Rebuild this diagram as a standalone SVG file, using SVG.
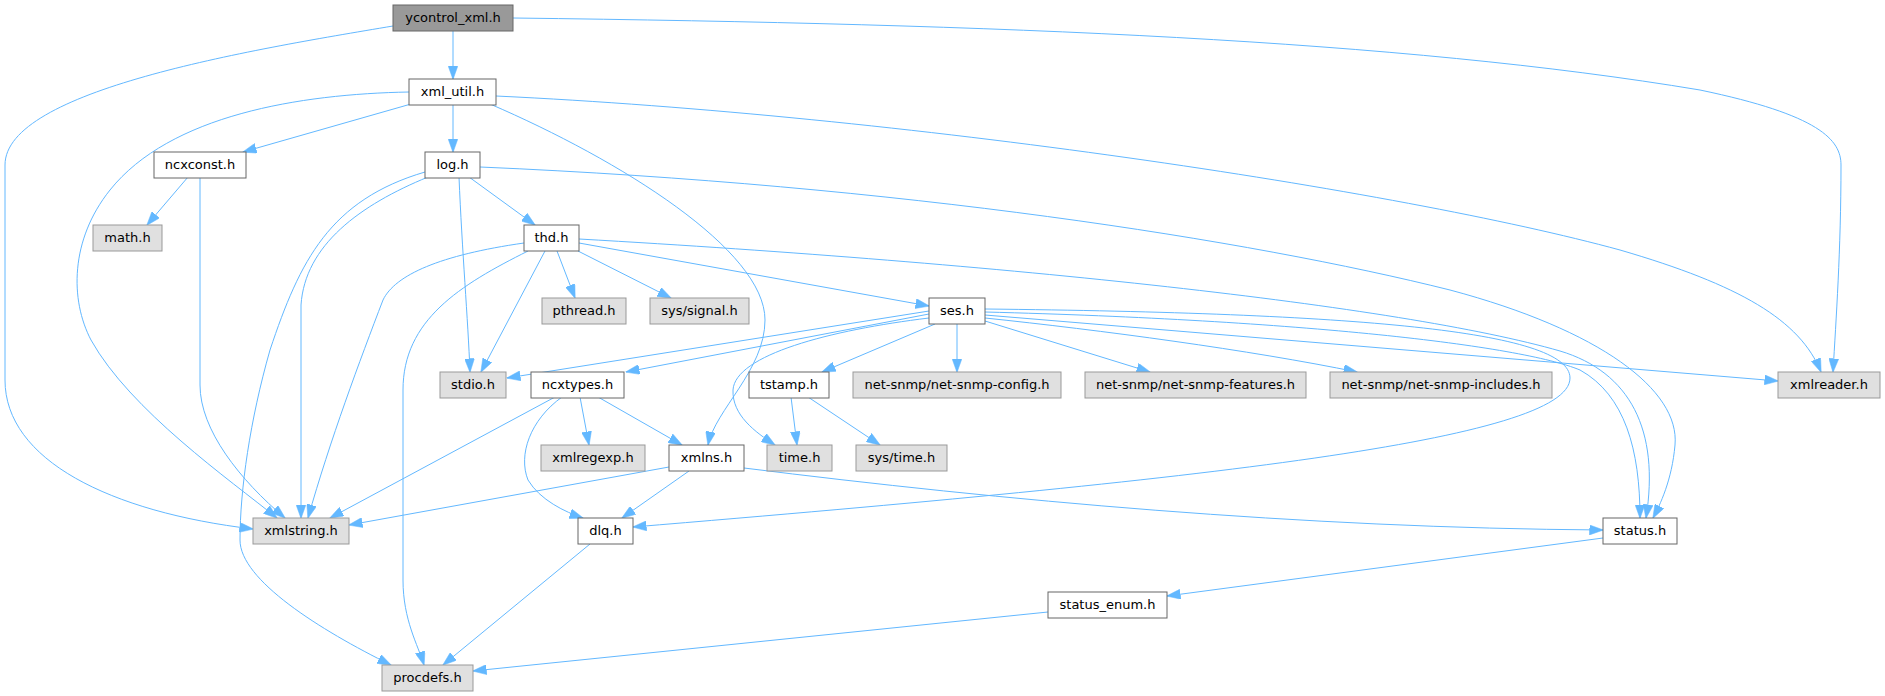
<svg xmlns="http://www.w3.org/2000/svg" width="1885" height="696" viewBox="0 0 1885 696">
<style>
.n rect{fill:#ffffff;stroke:#666666;stroke-width:1}
.g rect{fill:#e0e0e0;stroke:#999999;stroke-width:1}
.r rect{fill:#999999;stroke:#666666;stroke-width:1}
text{font-family:"DejaVu Sans","Liberation Sans",sans-serif;font-size:13px;fill:#000000;text-anchor:middle}
#edges path{fill:none;stroke:#63b8ff;stroke-width:1;marker-end:url(#arr)}
</style>
<defs>
<marker id="arr" viewBox="0 0 14 10" refX="13.5" refY="5" markerWidth="14" markerHeight="10" markerUnits="userSpaceOnUse" orient="auto">
<path d="M0,0 L14,5 L0,10 z" fill="#63b8ff" stroke="#63b8ff" stroke-width="0.5"/>
</marker>
</defs>
<rect x="0" y="0" width="1885" height="696" fill="#ffffff"/>
<g id="edges">
<path d="M453,31 L453,79"/>
<path d="M393,26 C250,50 5,90 5,165 L5,380 C5,460 110,512 253,529"/>
<path d="M513,18 C1000,24 1400,40 1700,90 C1820,115 1841,140 1841,165 C1841,250 1836,320 1833,372"/>
<path d="M411,104 L243,152"/>
<path d="M453,104 L453,152"/>
<path d="M409,92 C300,94 170,115 110,190 C70,240 70,300 91,340 C130,410 230,480 277,518"/>
<path d="M490,104 C620,160 765,250 765,320 C765,370 715,410 708,445"/>
<path d="M496,96 C900,115 1400,190 1620,250 C1740,285 1800,320 1821,372"/>
<path d="M469,177 L535,225"/>
<path d="M459,177 C462,250 468,320 470,372"/>
<path d="M428,177 C360,205 305,245 301,305 L301,518"/>
<path d="M425,172 C330,200 300,260 270,350 C250,420 240,490 240,540 C240,580 320,630 391,665"/>
<path d="M480,167 C900,185 1250,240 1450,290 C1600,330 1680,390 1675,445 C1672,480 1660,505 1653,518"/>
<path d="M188,177 L147,225"/>
<path d="M200,177 L200,385 C200,430 240,480 285,518"/>
<path d="M557,251 L575,298"/>
<path d="M578,251 L671,298"/>
<path d="M579,243 L929,306"/>
<path d="M545,251 L481,372"/>
<path d="M524,243 C440,255 395,275 383,300 C360,360 330,440 308,518"/>
<path d="M528,251 C460,285 403,320 403,390 L403,580 C403,620 418,645 424,665"/>
<path d="M579,239 C1000,263 1400,305 1560,351 C1630,372 1660,430 1646,518"/>
<path d="M929,311 L507,378"/>
<path d="M929,314 L626,372"/>
<path d="M929,318 C830,330 735,355 733,390 C732,415 755,432 775,445"/>
<path d="M935,324 L822,372"/>
<path d="M957,324 L957,372"/>
<path d="M985,321 L1150,372"/>
<path d="M985,318 C1100,330 1250,350 1357,372"/>
<path d="M985,315 L1778,381"/>
<path d="M985,312 C1300,320 1520,345 1580,370 C1625,395 1640,450 1640,518"/>
<path d="M985,309 C1350,313 1570,330 1570,378 C1570,440 1200,480 633,527"/>
<path d="M555,397 L330,518"/>
<path d="M562,397 C530,420 518,455 528,480 C540,500 565,512 583,518"/>
<path d="M580,397 L589,445"/>
<path d="M598,397 L682,445"/>
<path d="M669,467 L349,525"/>
<path d="M689,471 L622,518"/>
<path d="M744,468 C1000,500 1300,528 1603,530"/>
<path d="M791,397 L797,445"/>
<path d="M808,397 L880,445"/>
<path d="M590,544 L443,665"/>
<path d="M1603,538 L1167,596"/>
<path d="M1048,612 L473,671"/>
</g>
<g id="node_ycontrol_xml" class="r"><rect x="393" y="5" width="120" height="26"/><text x="453" y="21.5">ycontrol_xml.h</text></g>
<g id="node_xml_util" class="n"><rect x="409" y="79" width="87" height="26"/><text x="452.5" y="95.5">xml_util.h</text></g>
<g id="node_ncxconst" class="n"><rect x="154" y="152" width="92" height="26"/><text x="200" y="168.5">ncxconst.h</text></g>
<g id="node_log" class="n"><rect x="425" y="152" width="55" height="26"/><text x="452.5" y="168.5">log.h</text></g>
<g id="node_math" class="g"><rect x="93" y="225" width="69" height="26"/><text x="127.5" y="241.5">math.h</text></g>
<g id="node_thd" class="n"><rect x="524" y="225" width="55" height="26"/><text x="551.5" y="241.5">thd.h</text></g>
<g id="node_pthread" class="g"><rect x="542" y="298" width="84" height="26"/><text x="584" y="314.5">pthread.h</text></g>
<g id="node_sys_signal" class="g"><rect x="650" y="298" width="99" height="26"/><text x="699.5" y="314.5">sys/signal.h</text></g>
<g id="node_ses" class="n"><rect x="929" y="298" width="56" height="26"/><text x="957" y="314.5">ses.h</text></g>
<g id="node_stdio" class="g"><rect x="440" y="372" width="66" height="26"/><text x="473" y="388.5">stdio.h</text></g>
<g id="node_ncxtypes" class="n"><rect x="531" y="372" width="93" height="26"/><text x="577.5" y="388.5">ncxtypes.h</text></g>
<g id="node_tstamp" class="n"><rect x="749" y="372" width="80" height="26"/><text x="789" y="388.5">tstamp.h</text></g>
<g id="node_snmp_config" class="g"><rect x="853" y="372" width="208" height="26"/><text x="957" y="388.5">net-snmp/net-snmp-config.h</text></g>
<g id="node_snmp_features" class="g"><rect x="1085" y="372" width="221" height="26"/><text x="1195.5" y="388.5">net-snmp/net-snmp-features.h</text></g>
<g id="node_snmp_includes" class="g"><rect x="1330" y="372" width="222" height="26"/><text x="1441" y="388.5">net-snmp/net-snmp-includes.h</text></g>
<g id="node_xmlreader" class="g"><rect x="1778" y="372" width="102" height="26"/><text x="1829" y="388.5">xmlreader.h</text></g>
<g id="node_xmlregexp" class="g"><rect x="541" y="445" width="104" height="26"/><text x="593" y="461.5">xmlregexp.h</text></g>
<g id="node_xmlns" class="n"><rect x="669" y="445" width="75" height="26"/><text x="706.5" y="461.5">xmlns.h</text></g>
<g id="node_time" class="g"><rect x="767" y="445" width="65" height="26"/><text x="799.5" y="461.5">time.h</text></g>
<g id="node_sys_time" class="g"><rect x="856" y="445" width="91" height="26"/><text x="901.5" y="461.5">sys/time.h</text></g>
<g id="node_xmlstring" class="g"><rect x="253" y="518" width="96" height="26"/><text x="301" y="534.5">xmlstring.h</text></g>
<g id="node_dlq" class="n"><rect x="578" y="518" width="55" height="26"/><text x="605.5" y="534.5">dlq.h</text></g>
<g id="node_status" class="n"><rect x="1603" y="518" width="74" height="26"/><text x="1640" y="534.5">status.h</text></g>
<g id="node_status_enum" class="n"><rect x="1048" y="592" width="119" height="26"/><text x="1107.5" y="608.5">status_enum.h</text></g>
<g id="node_procdefs" class="g"><rect x="382" y="665" width="91" height="26"/><text x="427.5" y="681.5">procdefs.h</text></g>
</svg>
